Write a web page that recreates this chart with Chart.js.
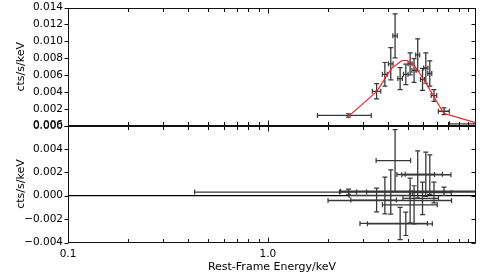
<!DOCTYPE html>
<html>
<head>
<meta charset="utf-8">
<script src="https://cdn.jsdelivr.net/npm/chart.js@4.4.0/dist/chart.umd.min.js"></script>
<style>
  html, body { margin: 0; padding: 0; background: #fff; }
  #wrap { position: relative; width: 485px; height: 277px; }
  #wrap canvas { position: absolute; left: 0; top: 0; }
</style>
</head>
<body>
<div id="wrap">
  <canvas id="spec" width="485" height="277"></canvas>
  <canvas id="resid" width="485" height="277"></canvas>
</div>
<script>
// spectrum bins (keV) and half widths
const energy    = [2.53, 3.50, 3.85, 4.12, 4.33, 4.59, 4.90, 5.15, 5.39, 5.62, 5.94, 6.17, 6.46, 6.78, 7.61, 9.6];
const energyErr = [0.76, 0.17, 0.11, 0.11, 0.11, 0.12, 0.13, 0.12, 0.13, 0.13, 0.14, 0.15, 0.15, 0.22, 0.48, 1.5];
const rate      = [0.00125, 0.0041, 0.0061, 0.00735, 0.01065, 0.0056, 0.0061, 0.00735, 0.00656, 0.0084, 0.0055, 0.00685, 0.0062, 0.0036, 0.00174, 0.00026];
const rateErr   = [0.0002, 0.0009, 0.0014, 0.0019, 0.0026, 0.0013, 0.0012, 0.0013, 0.0014, 0.0019, 0.0013, 0.0018, 0.0015, 0.0007, 0.0004, 0];

// model curve
const modelEnergy = [2.515, 3.51, 3.87, 4.18, 4.69, 4.97, 5.36, 6.02, 6.75, 7.58, 10.9];
const modelRate   = [0.00108, 0.00409, 0.00568, 0.00686, 0.00774, 0.00774, 0.00727, 0.00549, 0.00353, 0.0015, 0.0004];

// residuals
const residEnergyErr = [0.25, 0.9, 1.3, 1.0, 0.85, 1.7, 1.75, 3.15, 1.65, 1.2, 1.2, 1.3, 1.78, 1.5, 5.3, 9.17];
const resid          = [0.00032, -0.00037, 0.00002, 0.00032, 0.0030, -0.00237, -0.0024, -0.00041, -0.00078, 0.00181, -0.00023, 0.00183, 0.00179, 0.00027, 0.00038, 0.00031];
const residErr       = [0.00024, 0.00102, 0.00157, 0.00189, 0.00264, 0.00138, 0.0010, 0.00191, 0.00163, 0.00202, 0.00139, 0.00189, 0.0017, 0.00089, 0.00036, 0];

// axes
const xMin = 0.1, xMax = 11;
const xTicks = [0.1, 0.2, 0.3, 0.4, 0.5, 0.6, 0.7, 0.8, 0.9, 1, 2, 3, 4, 5, 6, 7, 8, 9, 10];
const xMajor = [0.1, 1];
const specTicks = [0, 0.002, 0.004, 0.006, 0.008, 0.010, 0.012, 0.014];
const residTicks = [-0.004, -0.002, 0, 0.002, 0.004, 0.006];

Chart.defaults.font.family = "'DejaVu Sans', sans-serif";
Chart.defaults.font.size = 10.5;
Chart.defaults.color = '#000';

const BAR = '#383838';

function errorBars(xs, xe, ys, ye) {
  const sets = [];
  xs.forEach((x, i) => {
    const common = {
      showLine: true, borderColor: BAR, borderWidth: 1.3,
      pointStyle: 'line', pointRadius: 2.5, pointBorderColor: BAR,
      pointBorderWidth: 1.2, pointBackgroundColor: BAR, order: 2
    };
    if (ye[i] > 0) {
      sets.push({...common, pointRotation: 0,
        data: [{x: x, y: ys[i] - ye[i]}, {x: x, y: ys[i] + ye[i]}]});
    }
    sets.push({...common, pointRotation: 90,
      data: [{x: x - xe[i], y: ys[i]}, {x: x + xe[i], y: ys[i]}]});
  });
  return sets;
}

// frame with inward ticks, like the old matplotlib look
const frame = {
  id: 'frame',
  afterDatasetsDraw(chart) {
    const {ctx, chartArea: a, scales: {x, y}} = chart;
    const L = Math.round(a.left) + 0.5, R = Math.round(a.right) - 0.5;
    const T = Math.round(a.top) + 0.5, B = Math.round(a.bottom) - 0.5;
    ctx.save();
    ctx.strokeStyle = '#111';
    ctx.lineWidth = 1;
    ctx.strokeRect(L, T, R - L, B - T);
    ctx.beginPath();
    x.ticks.forEach(t => {
      const px = Math.round(x.getPixelForValue(t.value)) + 0.5;
      const len = xMajor.includes(t.value) ? 5 : 3.5;
      ctx.moveTo(px, B); ctx.lineTo(px, B - len);
      ctx.moveTo(px, T); ctx.lineTo(px, T + len);
    });
    y.ticks.forEach(t => {
      const py = Math.round(y.getPixelForValue(t.value)) + 0.5;
      ctx.moveTo(L - 4, py); ctx.lineTo(L, py);
      ctx.moveTo(R, py); ctx.lineTo(R - 4, py);
    });
    ctx.stroke();
    ctx.restore();
  }
};

function noPad(s) {
  s.paddingTop = 0; s.paddingBottom = 0; s.paddingLeft = 0; s.paddingRight = 0;
}

function xScale(showLabels, height) {
  return {
    type: 'logarithmic', min: xMin, max: xMax,
    grid: {display: false, drawTicks: false}, border: {display: false},
    afterBuildTicks: s => { s.ticks = xTicks.map(v => ({value: v})); },
    afterFit: s => { s.height = height; noPad(s); },
    ticks: {
      display: showLabels, autoSkip: false, maxRotation: 0, padding: 5,
      callback: v => xMajor.includes(v) ? v.toFixed(1) : ''
    },
    title: {
      display: showLabels, text: 'Rest-Frame Energy/keV',
      font: {size: 11}, padding: {top: 0, bottom: 3.5}
    }
  };
}

function yScale(min, max, ticks) {
  return {
    min: min, max: max,
    grid: {display: false, drawTicks: false}, border: {display: false},
    afterBuildTicks: s => { s.ticks = ticks.map(v => ({value: v})); },
    afterFit: s => { s.width = 68; noPad(s); },
    ticks: {
      padding: 5,
      callback: v => (v < -1e-9 ? '\u2212' : '') + Math.abs(v).toFixed(3)
    },
    title: {
      display: true, text: 'cts/s/keV',
      font: {size: 11}, padding: {top: 14.5, bottom: 0}
    }
  };
}

const common = {
  responsive: false, animation: false, events: [],
  plugins: {legend: {display: false}, tooltip: {enabled: false}}
};

new Chart(document.getElementById('spec'), {
  type: 'scatter',
  data: {
    datasets: [
      {
        data: modelEnergy.map((e, i) => ({x: e, y: modelRate[i]})),
        showLine: true, borderColor: '#ff1a1a', borderWidth: 1.1,
        pointRadius: 0, order: 1
      },
      ...errorBars(energy, energyErr, rate, rateErr)
    ]
  },
  options: {
    ...common,
    layout: {padding: {left: 0, right: 9, top: 7.5, bottom: 0}},
    scales: {x: xScale(false, 151), y: yScale(0, 0.014, specTicks)}
  },
  plugins: [frame]
});

new Chart(document.getElementById('resid'), {
  type: 'scatter',
  data: {
    datasets: [
      {
        data: [{x: xMin, y: 0}, {x: xMax, y: 0}],
        showLine: true, borderColor: '#000', borderWidth: 1.2,
        pointRadius: 0, order: 3
      },
      ...errorBars(energy, residEnergyErr, resid, residErr)
    ]
  },
  options: {
    ...common,
    layout: {padding: {left: 0, right: 9, top: 125.5, bottom: 0}},
    scales: {x: xScale(true, 34.5), y: yScale(-0.004, 0.006, residTicks)}
  },
  plugins: [frame]
});
</script>
</body>
</html>
